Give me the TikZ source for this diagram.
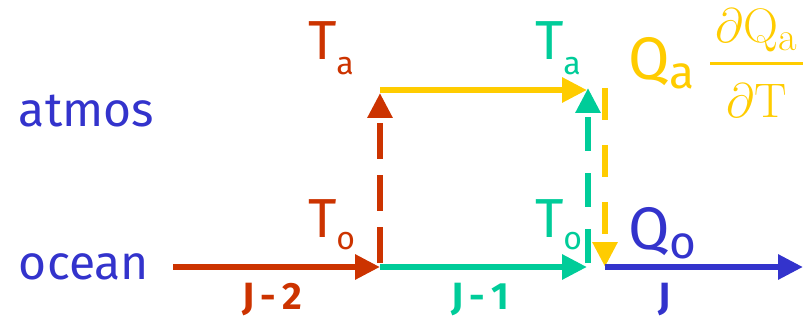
\documentclass[tikz,border=0pt]{standalone}
\usepackage{fontspec}
\usetikzlibrary{arrows.meta}
\newfontfamily\comicfont{Fira Sans}
\definecolor{heatred}{RGB}{204,51,0}
\definecolor{sunyellow}{RGB}{255,204,0}
\definecolor{seagreen}{RGB}{0,204,153}
\definecolor{deepblue}{RGB}{51,51,204}
% lowered subscript: drop, size, letter
\newcommand{\lowsub}[3]{\raisebox{-#1}{\fontsize{#2}{#2}\selectfont #3}}

\begin{document}
\begin{tikzpicture}[x=1pt, y=-1pt, line width=6pt,
    >={Triangle[length=25pt,width=24pt]},
    lbl/.style={inner sep=0pt, anchor=base west, font=\comicfont\fontsize{48}{54}\selectfont},
    tlbl/.style={lbl, font=\comicfont\fontsize{55}{58}\selectfont},
    qlbl/.style={lbl, font=\comicfont\fontsize{60}{64}\selectfont},
    idx/.style={inner sep=0pt, anchor=base, font=\comicfont\bfseries\fontsize{38}{42}\selectfont},
    frac/.style={inner sep=0pt, anchor=base, sunyellow, font=\Huge, scale=1.95}]
  \useasboundingbox (0,0) rectangle (803,323);

  % grid points
  \coordinate (w)  at (173,267);
  \coordinate (o1) at (380,267);
  \coordinate (a1) at (380,90);
  \coordinate (o2) at (588,267);
  \coordinate (a2) at (588,90);
  \coordinate (qt) at (605,88);
  \coordinate (qb) at (605,267);
  \coordinate (e)  at (803,267);

  % row names
  \node[lbl, deepblue] (atm) at (16,127) {atmos};
  \node[lbl, deepblue] (ocn) at (16,279) {ocean};

  % arrows
  \draw[heatred,->] (w) -- (o1);
  \draw[heatred,->,dash pattern=on 36pt off 16pt] ([yshift=4pt]o1) -- ([yshift=-3pt]a1);
  \draw[sunyellow,->] (a1) -- ([xshift=-1pt]a2);
  \draw[seagreen,->] (o1) -- ([xshift=-1pt]o2);
  \draw[seagreen,->,dash pattern=on 34pt off 22pt] ([yshift=4pt]o2) -- ([yshift=2pt]a2);
  \draw[sunyellow,->,dash pattern=on 32pt off 25pt] (qt) -- (qb);
  \draw[deepblue,->] (qb) -- (e);

  % labels
  \node[tlbl, heatred] (tar) at (305,60) {T\lowsub{15pt}{32}{a}};
  \node[tlbl, heatred] (tor) at (305,237) {T\lowsub{13pt}{32}{o}};
  \node[tlbl, seagreen] (tag) at (532,60) {T\lowsub{15pt}{32}{a}};
  \node[tlbl, seagreen] (tog) at (532,237) {T\lowsub{13pt}{32}{o}};
  \node[qlbl, sunyellow] (qa) at (625,80) {Q\lowsub{9pt}{46}{a}};
  \node[qlbl, deepblue] (qo) at (625,250) {Q\lowsub{9pt}{46}{o}};

  \node[idx, heatred] (j2) at (272,309) {J\,-\,2};
  \node[idx, seagreen] (j1) at (480,309) {J\,-\,1};
  \node[idx, deepblue] (j0) at (665,309) {J};

  % derivative
  \node[frac] (num) at (757,43) {$\partial\mathrm{Q}_{\mathrm{a}}$};
  \node[frac] (den) at (757,118) {$\partial\mathrm{T}$};
  \draw[sunyellow, line width=3pt] (710,64) -- (803,64);
\end{tikzpicture}
\end{document}
